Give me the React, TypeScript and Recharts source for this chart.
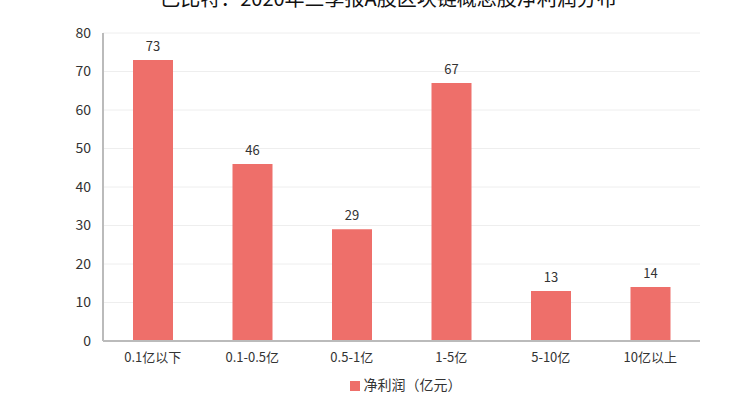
import { BarChart, Bar, XAxis, YAxis, CartesianGrid, Legend, LabelList } from 'recharts';

const categories = ['0.1亿以下', '0.1-0.5亿', '0.5-1亿', '1-5亿', '5-10亿', '10亿以上'];
const profit = [73, 46, 29, 67, 13, 14];
const yTicks = [0, 10, 20, 30, 40, 50, 60, 70, 80];

const data = categories.map((name, i) => ({ name, value: profit[i] }));

const font = '"Microsoft YaHei", "Noto Sans CJK SC", sans-serif';

export default function App() {
  return (
    <div style={{ position: 'absolute', left: 0, top: 0, width: 745, height: 406, background: '#fff', fontFamily: font }}>
      <div
        style={{
          position: 'absolute',
          left: 16,
          width: 745,
          top: -17,
          textAlign: 'center',
          fontSize: 20,
          color: '#111',
          whiteSpace: 'nowrap',
        }}
      >
        巴比特：2020年三季报A股区块链概念股净利润分布
      </div>
      <BarChart width={745} height={406} data={data} margin={{ top: 33, right: 45, left: 43, bottom: 11 }}>
        <CartesianGrid vertical={false} stroke="#eeeeee" />
        <XAxis
          dataKey="name"
          axisLine={{ stroke: '#bbbbbb', strokeWidth: 2 }}
          tickLine={false}
          height={30}
          tick={{ fill: '#333', fontSize: 13, fontFamily: font }}
          tickMargin={6}
        />
        <YAxis
          width={60}
          domain={[0, 80]}
          ticks={yTicks}
          axisLine={{ stroke: '#bbbbbb', strokeWidth: 2 }}
          tickLine={false}
          tick={{ fill: '#333', fontSize: 14, fontFamily: font }}
          tickMargin={6}
        />
        <Legend
          iconType="square"
          iconSize={10}
          wrapperStyle={{ left: 82 }}
          formatter={(v) => <span style={{ color: '#333', fontSize: 14 }}>{v}</span>}
        />
        <Bar dataKey="value" name="净利润（亿元）" fill="#ee6f6a" barSize={40} isAnimationActive={false}>
          <LabelList dataKey="value" position="top" offset={9} fill="#333" fontSize={13} fontFamily={font} />
        </Bar>
      </BarChart>
    </div>
  );
}
